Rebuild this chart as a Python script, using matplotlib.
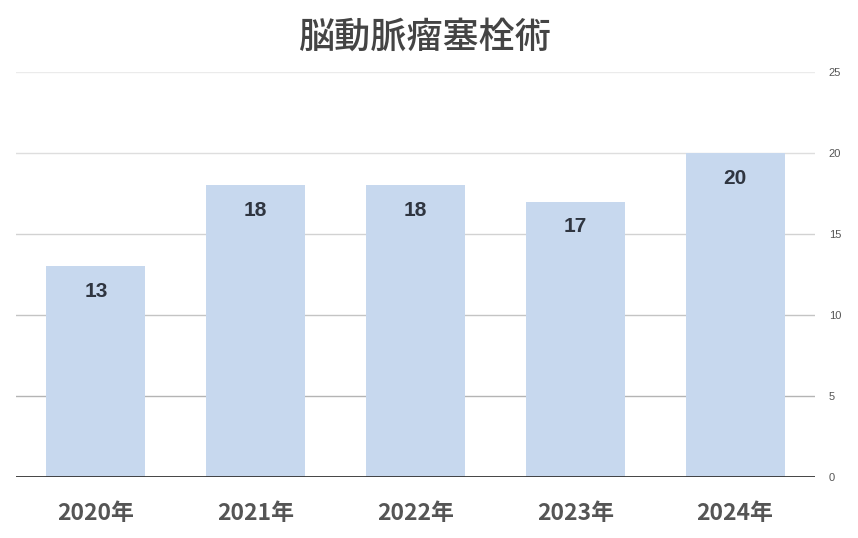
import matplotlib
matplotlib.use("Agg")
import matplotlib.pyplot as plt

plt.rcParams['font.family'] = ['Noto Sans CJK JP', 'DejaVu Sans']

title = "脳動脈瘤塞栓術"
categories = ["2020年", "2021年", "2022年", "2023年", "2024年"]
values = [13, 18, 18, 17, 20]
yticks = [0, 5, 10, 15, 20, 25]

fig = plt.figure(figsize=(8.58, 5.38), dpi=100)
ax = fig.add_axes([16/858, 61/538, 799/858, 405/538])

x = list(range(len(categories)))
bars = ax.bar(x, values, width=0.62, color="#c7d8ee", zorder=2)
ax.set_xlim(-0.5, len(categories) - 0.5)
ax.set_ylim(0, 25)

grid_colors = {5: "#b4b4b4", 10: "#c4c4c4", 15: "#d2d2d2", 20: "#dedede", 25: "#ebebeb"}
for v, c in grid_colors.items():
    ax.axhline(v, color=c, lw=1, zorder=1)
ax.axhline(0, color="#333333", lw=2, zorder=3)

for rect, v in zip(bars, values):
    ax.annotate(str(v), (rect.get_x() + rect.get_width()/2, v),
                xytext=(0, -18), textcoords="offset points",
                ha="center", va="center", fontsize=15, fontweight="bold",
                family=["Liberation Sans", "DejaVu Sans"],
                color="#2f3540", zorder=4)

for s in ax.spines.values():
    s.set_visible(False)
ax.yaxis.tick_right()
ax.set_yticks(yticks)
ax.set_yticklabels([str(t) for t in yticks], fontsize=8, color="#555555",
                   family=["Liberation Sans", "DejaVu Sans"])
ax.tick_params(axis="y", length=0, pad=10)
ax.set_xticks(x)
ax.set_xticklabels(categories, fontsize=16.5, fontweight="bold", color="#555555")
ax.tick_params(axis="x", length=0, pad=18)

fig.text(425/858, 1 - 38/538, title, ha="center", va="center",
         fontsize=26, fontweight="medium", color="#444444")

fig.savefig("out.png", dpi=100, facecolor="white")
